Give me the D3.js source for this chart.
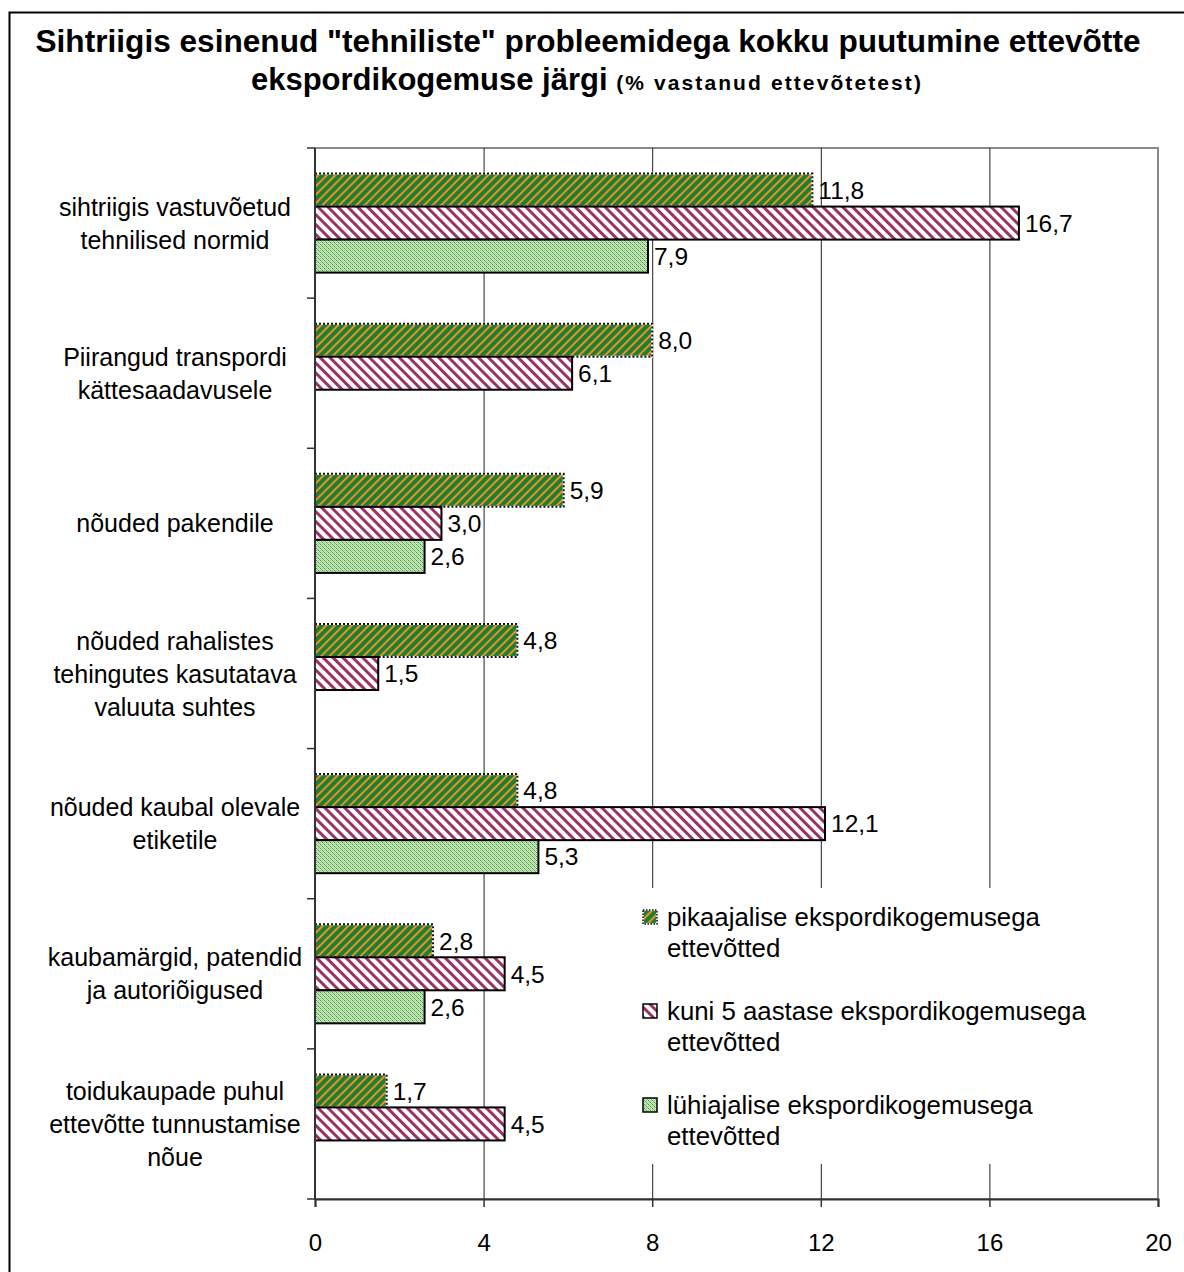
<!DOCTYPE html>
<html>
<head>
<meta charset="utf-8">
<script src="https://cdn.jsdelivr.net/npm/d3@7"></script>
<style>
  body { margin: 0; background: #fff; }
  text { font-family: "Liberation Sans", Arial, sans-serif; fill: #000; }
</style>
</head>
<body>
<svg id="chart" width="1184" height="1272"></svg>
<script>
// Categories (line breaks mark where the axis label wraps)
const categories = [
  "sihtriigis vastuvõetud\ntehnilised normid",
  "Piirangud transpordi\nkättesaadavusele",
  "nõuded pakendile",
  "nõuded rahalistes\ntehingutes kasutatava\nvaluuta suhtes",
  "nõuded kaubal olevale\netiketile",
  "kaubamärgid, patendid\nja autoriõigused",
  "toidukaupade puhul\nettevõtte tunnustamise\nnõue"
];

// Share of respondents (%) by export experience
const longTerm  = [11.8, 8.0, 5.9, 4.8, 4.8, 2.8, 1.7];
const upToFive  = [16.7, 6.1, 3.0, 1.5, 12.1, 4.5, 4.5];
const shortTerm = [7.9, null, 2.6, null, 5.3, 2.6, null];

const seriesNames = [
  "pikaajalise ekspordikogemusega\nettevõtted",
  "kuni 5 aastase ekspordikogemusega\nettevõtted",
  "lühiajalise ekspordikogemusega\nettevõtted"
];

const xTicks = [0, 4, 8, 12, 16, 20];

const titleLine1 = "Sihtriigis esinenud \"tehniliste\" probleemidega kokku puutumine ettevõtte";
const titleLine2 = "ekspordikogemuse järgi";
const titleNote = "(% vastanud ettevõtetest)";

const series = [longTerm, upToFive, shortTerm];
const fills = ["url(#patLong)", "url(#patFive)", "url(#patShort)"];

const svg = d3.select("#chart");

// ---- fill patterns ----
const defs = svg.append("defs");

const pLong = defs.append("pattern").attr("id", "patLong")
  .attr("patternUnits", "userSpaceOnUse").attr("width", 6).attr("height", 6)
  .attr("patternTransform", "rotate(45)");
pLong.append("rect").attr("width", 6).attr("height", 6).attr("fill", "#1b7f36");
pLong.append("rect").attr("x", 0).attr("width", 2).attr("height", 6).attr("fill", "#ef8f1f");

const pFive = defs.append("pattern").attr("id", "patFive")
  .attr("patternUnits", "userSpaceOnUse").attr("width", 7).attr("height", 7)
  .attr("patternTransform", "rotate(-45)");
pFive.append("rect").attr("width", 7).attr("height", 7).attr("fill", "#ffffff");
pFive.append("rect").attr("x", 0).attr("width", 3).attr("height", 7).attr("fill", "#993366");

const pShort = defs.append("pattern").attr("id", "patShort")
  .attr("patternUnits", "userSpaceOnUse").attr("width", 4).attr("height", 4);
pShort.append("rect").attr("width", 4).attr("height", 4).attr("fill", "#cdeabf");
[[0, 0, "#3f963f"], [2, 2, "#3f963f"], [1, 1, "#74b96c"], [3, 3, "#74b96c"],
 [2, 0, "#98cd8f"], [0, 2, "#98cd8f"], [1, 3, "#b3dca9"], [3, 1, "#b3dca9"]]
  .forEach(([px, py, c]) => pShort.append("rect").attr("x", px).attr("y", py)
    .attr("width", 1).attr("height", 1).attr("fill", c));

// ---- outer frame ----
svg.append("rect").attr("x", 9.5).attr("y", 12.5).attr("width", 1200).attr("height", 1300)
  .attr("fill", "#fff").attr("stroke", "#000").attr("stroke-width", 2);

// ---- title ----
svg.append("text").attr("x", 588).attr("y", 52).attr("text-anchor", "middle")
  .attr("font-size", 31).attr("font-weight", "bold")
  .attr("textLength", 1105).attr("lengthAdjust", "spacingAndGlyphs")
  .text(titleLine1);
const t2 = svg.append("text").attr("x", 587).attr("y", 90).attr("text-anchor", "middle")
  .attr("font-weight", "bold");
t2.append("tspan").attr("font-size", 31).text(titleLine2 + " ");
t2.append("tspan").attr("font-size", 21).attr("letter-spacing", 2.1).text(titleNote);

// ---- scales ----
const plot = { left: 315, right: 1158, top: 148, bottom: 1199 };
const x = d3.scaleLinear().domain([0, 20]).range([plot.left, plot.right]);
const y = d3.scaleBand().domain(categories).range([plot.top, plot.bottom])
  .paddingInner(0.34).paddingOuter(0.17);
const ys = d3.scaleBand().domain([0, 1, 2]).range([0, y.bandwidth()]);

// ---- plot area frame and gridlines ----
svg.append("rect").attr("x", plot.left).attr("y", plot.top)
  .attr("width", plot.right - plot.left).attr("height", plot.bottom - plot.top)
  .attr("fill", "none").attr("stroke", "#8a8a8a").attr("stroke-width", 2);

svg.append("g").selectAll("line").data(xTicks.filter(t => t > 0 && t < 20)).join("line")
  .attr("x1", d => x(d) + 0.5).attr("x2", d => x(d) + 0.5)
  .attr("y1", plot.top).attr("y2", plot.bottom)
  .attr("stroke", "#222").attr("stroke-width", 1);

// ---- bars ----
series.forEach((vals, si) => {
  const g = svg.append("g");
  const rows = categories.map((c, i) => ({ c, v: vals[i] })).filter(d => d.v != null);
  const bars = g.selectAll("rect").data(rows).join("rect")
    .attr("x", x(0)).attr("y", d => y(d.c) + ys(si))
    .attr("width", d => x(d.v) - x(0)).attr("height", ys.bandwidth())
    .attr("fill", fills[si]);
  if (si === 0) {
    bars.attr("stroke", "#fff").attr("stroke-width", 2);
    g.selectAll("rect.dash").data(rows).join("rect").attr("class", "dash")
      .attr("x", x(0)).attr("y", d => y(d.c) + ys(si))
      .attr("width", d => x(d.v) - x(0)).attr("height", ys.bandwidth())
      .attr("fill", "none").attr("stroke", "#111").attr("stroke-width", 2)
      .attr("stroke-dasharray", "2,2");
  } else {
    bars.attr("stroke", "#000").attr("stroke-width", 2);
  }
  // value labels
  g.selectAll("text").data(rows).join("text")
    .attr("x", d => x(d.v) + 6)
    .attr("y", d => y(d.c) + ys(si) + ys.bandwidth() / 2)
    .attr("dy", "0.36em").attr("font-size", 24.5)
    .text(d => d3.format(".1f")(d.v).replace(".", ","));
});

// ---- legend ----
const lg = svg.append("g");
lg.append("rect").attr("x", 630).attr("y", 888).attr("width", 520).attr("height", 276).attr("fill", "#fff");
seriesNames.forEach((name, i) => {
  const cy = 917 + i * 94;
  if (i === 0) {
    lg.append("rect").attr("x", 643).attr("y", cy - 7).attr("width", 14).attr("height", 14)
      .attr("fill", fills[i]).attr("stroke", "#fff").attr("stroke-width", 1.5);
    lg.append("rect").attr("x", 643).attr("y", cy - 7).attr("width", 14).attr("height", 14)
      .attr("fill", "none").attr("stroke", "#111").attr("stroke-width", 1.5).attr("stroke-dasharray", "1.5,1.5");
  } else {
    lg.append("rect").attr("x", 643).attr("y", cy - 7).attr("width", 14).attr("height", 14)
      .attr("fill", fills[i]).attr("stroke", "#000").attr("stroke-width", 1.5);
  }
  const t = lg.append("text").attr("x", 667).attr("y", cy).attr("font-size", 25.8);
  name.split("\n").forEach((line, k) => {
    t.append("tspan").attr("x", 667).attr("dy", k === 0 ? "0.36em" : 31).text(line);
  });
});

// ---- x axis ----
const xAxis = svg.append("g").attr("transform", `translate(0,${plot.bottom})`)
  .call(d3.axisBottom(x).tickValues(xTicks).tickSize(8).tickPadding(27).tickFormat(d3.format("d")));
xAxis.select(".domain").attr("stroke", "#333").attr("stroke-width", 2);
xAxis.selectAll(".tick line").attr("stroke", "#333").attr("stroke-width", 1.5);
xAxis.selectAll("text").attr("font-size", 24).attr("font-family", "Liberation Sans, Arial, sans-serif").attr("fill", "#000");

// ---- y axis: line, ticks between categories, wrapped labels ----
const yAxis = svg.append("g");
yAxis.append("line").attr("x1", plot.left).attr("x2", plot.left)
  .attr("y1", plot.top).attr("y2", plot.bottom).attr("stroke", "#333").attr("stroke-width", 2);
yAxis.selectAll("line.tk").data(d3.range(categories.length + 1)).join("line").attr("class", "tk")
  .attr("x1", plot.left - 8).attr("x2", plot.left)
  .attr("y1", i => plot.top + i * y.step()).attr("y2", i => plot.top + i * y.step())
  .attr("stroke", "#333").attr("stroke-width", 1.5);

const lineH = 33;
yAxis.selectAll("text").data(categories).join("text")
  .attr("text-anchor", "middle").attr("font-size", 25)
  .each(function (c) {
    const lines = c.split("\n");
    const cy = y(c) + y.bandwidth() / 2 - (lines.length - 1) * lineH / 2;
    const t = d3.select(this);
    lines.forEach((line, k) => {
      t.append("tspan").attr("x", 175).attr("y", cy + k * lineH).attr("dy", "0.36em").text(line);
    });
  });
</script>
</body>
</html>
